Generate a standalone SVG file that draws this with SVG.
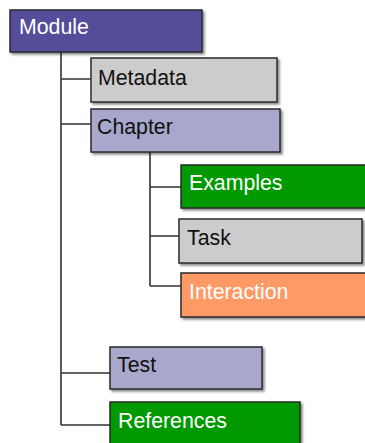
<svg xmlns="http://www.w3.org/2000/svg" width="365" height="443" viewBox="0 0 365 443">
<defs>
<filter id="sh" x="-10%" y="-20%" width="130%" height="150%">
<feDropShadow dx="2" dy="2" stdDeviation="1.2" flood-color="#000" flood-opacity="0.45"/>
</filter>
<style>
.box{stroke:#2a2a2a;stroke-width:1.5;filter:url(#sh)}
.t{font-family:"Liberation Sans",Arial,sans-serif;font-size:21.3px}
.w{fill:#ffffff}
.k{fill:#111111}
.c{stroke:#333333;stroke-width:1.6;fill:none}
</style>
</defs>
<rect width="365" height="443" fill="#ffffff"/>
<g id="connectors">
<path class="c" d="M61,52 V425 M61,79 H91 M61,124 H91 M61,373 H110 M61,425 H110"/>
<path class="c" d="M150,152 V286 M150,187 H181 M150,236 H179 M150,286 H181"/>
</g>
<g id="module"><rect class="box" x="10" y="10" width="192" height="42" fill="#524e9a"/><text class="t w" x="19" y="34">Module</text></g>
<g id="metadata"><rect class="box" x="91" y="58" width="186" height="44" fill="#cccccc"/><text class="t k" x="98" y="85">Metadata</text></g>
<g id="chapter"><rect class="box" x="91" y="109" width="189" height="43" fill="#a8a8cc"/><text class="t k" x="97" y="134">Chapter</text></g>
<g id="examples"><rect class="box" x="181" y="165" width="190" height="43" fill="#009900"/><text class="t w" x="189" y="190">Examples</text></g>
<g id="task"><rect class="box" x="179" y="219" width="183" height="44" fill="#cccccc"/><text class="t k" x="187" y="245">Task</text></g>
<g id="interaction"><rect class="box" x="181" y="273" width="190" height="44" fill="#ff9966"/><text class="t w" x="189" y="299">Interaction</text></g>
<g id="test"><rect class="box" x="110" y="347" width="152" height="42" fill="#a8a8cc"/><text class="t k" x="117" y="372">Test</text></g>
<g id="references"><rect class="box" x="110" y="402" width="190" height="50" fill="#009900"/><text class="t w" x="118" y="428">References</text></g>
</svg>
